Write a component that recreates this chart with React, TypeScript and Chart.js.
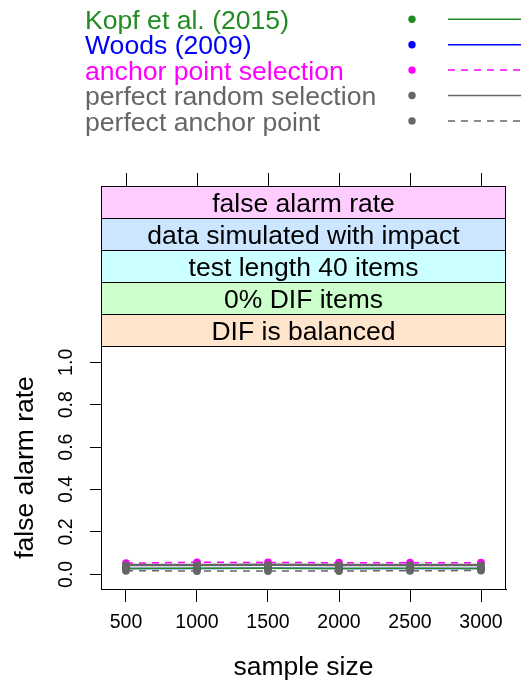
import React, { useEffect, useRef } from "react";
import { Chart, registerables } from "chart.js";

Chart.register(...registerables);

const sampleSizes = [500, 1000, 1500, 2000, 2500, 3000];
const kopf = [0.028, 0.029, 0.029, 0.028, 0.029, 0.028];
const woods = [0.028, 0.028, 0.029, 0.028, 0.028, 0.028];
const anchorSel = [0.053, 0.057, 0.056, 0.055, 0.055, 0.055];
const perfectRandom = [0.044, 0.044, 0.045, 0.044, 0.044, 0.044];
const perfectAnchor = [0.017, 0.016, 0.016, 0.016, 0.017, 0.018];

const yTicks = [0, 0.2, 0.4, 0.6, 0.8, 1.0];
const yTickLabels = ["0.0", "0.2", "0.4", "0.6", "0.8", "1.0"];
const stripLabels = [
  "false alarm rate",
  "data simulated with impact",
  "test length 40 items",
  "0% DIF items",
  "DIF is balanced",
];
const stripColors = ["#ffccff", "#cce6ff", "#ccffff", "#ccffcc", "#ffe5cc"];

const FONT = "'Liberation Sans', Arial, Helvetica, sans-serif";

const seriesDefs = [
  { label: "Kopf et al. (2015)", values: kopf, color: "#228B22", dash: [] as number[], order: 3, width: 1.5 },
  { label: "Woods (2009)", values: woods, color: "#0000FF", dash: [] as number[], order: 4, width: 1.5 },
  { label: "anchor point selection", values: anchorSel, color: "#FF00FF", dash: [7, 6], order: 2, width: 1.5 },
  { label: "perfect random selection", values: perfectRandom, color: "#666666", dash: [] as number[], order: 1, width: 2.5 },
  { label: "perfect anchor point", values: perfectAnchor, color: "#666666", dash: [7, 6], order: 0, width: 1.5 },
];

const decorPlugin = {
  id: "decor",
  afterDraw(chart: any) {
    const ctx = chart.ctx as CanvasRenderingContext2D;
    const area = chart.chartArea;
    const xs = chart.scales.x;
    const ys = chart.scales.y;
    ctx.save();

    // strips
    const stripH = 32;
    const top = area.top - stripH * stripLabels.length;
    for (let i = 0; i < stripLabels.length; i++) {
      const y0 = top + i * stripH;
      ctx.fillStyle = stripColors[i];
      ctx.fillRect(area.left, y0, area.right - area.left, stripH);
      ctx.strokeStyle = "#000";
      ctx.lineWidth = 1;
      ctx.strokeRect(area.left + 0.5, y0 + 0.5, area.right - area.left - 1, stripH);
      ctx.fillStyle = "#000";
      ctx.font = `26.5px ${FONT}`;
      ctx.textAlign = "center";
      ctx.textBaseline = "alphabetic";
      ctx.fillText(stripLabels[i], (area.left + area.right) / 2, y0 + stripH / 2 + 9.5);
    }

    // top ticks
    ctx.strokeStyle = "#000";
    ctx.lineWidth = 1;
    for (const v of sampleSizes) {
      const px = Math.round(xs.getPixelForValue(v)) + 0.5;
      ctx.beginPath();
      ctx.moveTo(px, top);
      ctx.lineTo(px, top - 13);
      ctx.stroke();
    }

    // panel box
    ctx.strokeRect(area.left + 0.5, area.top + 0.5, area.right - area.left - 1, area.bottom - area.top);

    // y tick labels (rotated)
    ctx.fillStyle = "#000";
    ctx.font = `19.5px ${FONT}`;
    ctx.textAlign = "center";
    ctx.textBaseline = "alphabetic";
    yTicks.forEach((v, i) => {
      const py = ys.getPixelForValue(v);
      ctx.save();
      ctx.translate(71.5, py);
      ctx.rotate(-Math.PI / 2);
      ctx.fillText(yTickLabels[i], 0, 0);
      ctx.restore();
    });

    // legend
    const ds = chart.data.datasets;
    ds.forEach((d: any, i: number) => {
      const base = 29 + i * 25.4;
      const cy = 19.3 + i * 25.4;
      ctx.fillStyle = d.borderColor;
      ctx.font = `26.6px ${FONT}`;
      ctx.textAlign = "left";
      ctx.textBaseline = "alphabetic";
      ctx.fillText(d.label, 85, base);
      ctx.beginPath();
      ctx.arc(412, cy, 3.7, 0, Math.PI * 2);
      ctx.fill();
      ctx.strokeStyle = d.borderColor;
      ctx.lineWidth = 1.5;
      ctx.setLineDash(d.borderDash || []);
      ctx.beginPath();
      ctx.moveTo(448, cy);
      ctx.lineTo(525, cy);
      ctx.stroke();
      ctx.setLineDash([]);
    });

    ctx.restore();
  },
};

export default function App() {
  const ref = useRef<HTMLCanvasElement | null>(null);
  useEffect(() => {
    if (!ref.current) return;
    const chart = new Chart(ref.current, {
      type: "line",
      data: {
        datasets: seriesDefs.map((s) => ({
          label: s.label,
          data: sampleSizes.map((x, i) => ({ x, y: s.values[i] })),
          borderColor: s.color,
          backgroundColor: s.color,
          pointBackgroundColor: s.color,
          pointBorderColor: s.color,
          pointRadius: 3.9,
          pointBorderWidth: 0,
          borderWidth: s.width,
          borderDash: s.dash,
          order: s.order,
          fill: false,
          tension: 0,
        })),
      },
      options: {
        responsive: false,
        animation: false,
        devicePixelRatio: 1,
        layout: { padding: { top: 346, right: 15, left: 0, bottom: 0 } },
        plugins: { legend: { display: false }, tooltip: { enabled: false } },
        scales: {
          x: {
            type: "linear",
            min: 324,
            max: 3176,
            afterFit: (s: any) => {
              s.height = 93;
            },
            afterBuildTicks: (s: any) => {
              s.ticks = sampleSizes.map((v) => ({ value: v }));
            },
            ticks: {
              color: "#000",
              font: { family: FONT, size: 19.5 },
              padding: 9,
              maxRotation: 0,
              autoSkip: false,
              callback: (v: any) => String(v),
            },
            grid: { drawOnChartArea: false, drawTicks: true, tickLength: 13, color: "#000" },
            border: { display: true, color: "#000" },
            title: {
              display: true,
              text: "sample size",
              color: "#000",
              font: { family: FONT, size: 26.5, lineHeight: 1 },
              padding: { top: 0, bottom: 1 },
            },
          },
          y: {
            type: "linear",
            min: -0.069,
            max: 1.077,
            afterFit: (s: any) => {
              s.width = 101;
            },
            afterBuildTicks: (s: any) => {
              s.ticks = yTicks.map((v) => ({ value: v }));
            },
            ticks: { display: false },
            grid: { drawOnChartArea: false, drawTicks: true, tickLength: 11, color: "#000" },
            border: { display: true, color: "#000" },
            title: {
              display: true,
              text: "false alarm rate",
              color: "#000",
              font: { family: FONT, size: 26.5, lineHeight: 1 },
              padding: { top: 12.5, bottom: 0 },
            },
          },
        },
      },
      plugins: [decorPlugin],
    });
    return () => chart.destroy();
  }, []);
  return (
    <div style={{ position: "absolute", left: 0, top: 0, width: 521, height: 682 }}>
      <canvas ref={ref} width={521} height={682} style={{ display: "block" }} />
    </div>
  );
}
